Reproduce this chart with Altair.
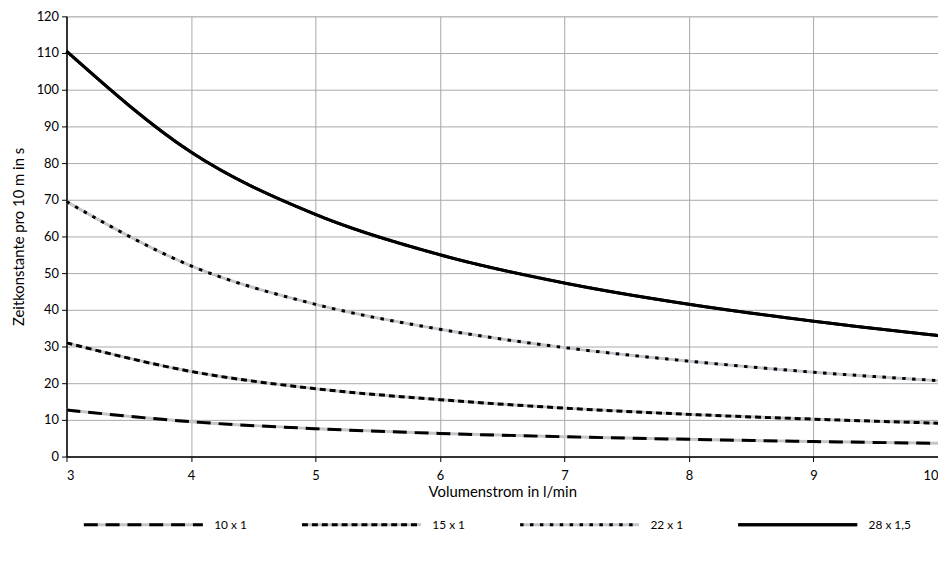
import altair as alt
import pandas as pd

x_vals = [3, 4, 5, 6, 7, 8, 9, 10]
series_names = ["10 x 1", "15 x 1", "22 x 1", "28 x 1,5"]
s10 = [12.7, 9.5, 7.6, 6.3, 5.4, 4.7, 4.1, 3.6]
s15 = [31.0, 23.2, 18.5, 15.5, 13.2, 11.5, 10.2, 9.1]
s22 = [69.5, 52.0, 41.5, 34.7, 29.7, 26.0, 23.0, 20.7]
s28 = [110.5, 83.0, 66.0, 55.0, 47.3, 41.5, 36.9, 33.0]

rows = []
for name, vals in zip(series_names, [s10, s15, s22, s28]):
    for xv, yv in zip(x_vals, vals):
        rows.append({"x": xv, "y": yv, "series": name, "under": name})
df = pd.DataFrame(rows)

FONT = "Lato"
PLOT_W = 879
PLOT_H = 444
lx, ly = 16, 451

xenc = alt.X("x:Q", scale=alt.Scale(domain=[3, 10], nice=False, zero=False),
             axis=alt.Axis(title="Volumenstrom in l/min", values=x_vals, format="d",
                           grid=True, gridColor="#a8a8a8", gridWidth=1,
                           domainColor="#000", domainWidth=1.5, tickColor="#000",
                           tickSize=5, labelFontSize=13, labelPadding=8,
                           titleFontSize=15, titlePadding=2, titleFontWeight="normal"))
yenc = alt.Y("y:Q", scale=alt.Scale(domain=[0, 120], nice=False),
             axis=alt.Axis(title="Zeitkonstante pro 10 m in s", values=list(range(0, 121, 10)),
                           grid=True, gridColor="#a8a8a8", gridWidth=1,
                           domainColor="#000", domainWidth=1.5, tickColor="#000",
                           tickSize=5, labelFontSize=13, labelPadding=3,
                           titleFontSize=15, titlePadding=10, titleFontWeight="normal"))

legend_common = dict(title=None, orient="none", legendX=lx, legendY=ly,
                     direction="horizontal", columns=4, symbolType="stroke",
                     symbolSize=14400, symbolStrokeWidth=3, labelOffset=10,
                     columnPadding=48, labelFontSize=12, labelFont=FONT,
                     labelColor="#000", symbolOpacity=1)

# gray underlay (explicit domain); its legend draws only the gray strokes
under = alt.Chart(df).mark_line(strokeWidth=3, interpolate="monotone").encode(
    x=xenc, y=yenc,
    color=alt.Color("under:N",
                    scale=alt.Scale(domain=series_names,
                                    range=["#c3c7cb", "#c3c7cb", "#c3c7cb", "#000000"]),
                    legend=alt.Legend(zindex=0, symbolDash=[1, 0], labelOpacity=0,
                                      **legend_common)),
    detail="series:N",
)

# black dashes on top (data-driven domain, so the two legends stay separate)
over = alt.Chart(df).mark_line(strokeWidth=3, interpolate="monotone", color="#000").encode(
    x=xenc, y=yenc,
    strokeDash=alt.StrokeDash("series:N", sort=series_names,
                              scale=alt.Scale(range=[[14, 8], [6, 4], [3.5, 6.5], [1, 0]]),
                              legend=alt.Legend(zindex=1, symbolStrokeColor="#000",
                                                **legend_common)),
)

chart = alt.layer(under, over).properties(
    width=PLOT_W, height=PLOT_H,
    autosize=alt.AutoSizeParams(type="none"),
    padding={"left": 59, "top": 6, "right": 0, "bottom": 563 - 6 - PLOT_H},
).configure_view(stroke=None).configure(font=FONT).configure_axis(
    labelFont=FONT, titleFont=FONT, labelColor="#000", titleColor="#000"
)

chart.save("out.html", embed_options={"renderer": "svg", "actions": False})
